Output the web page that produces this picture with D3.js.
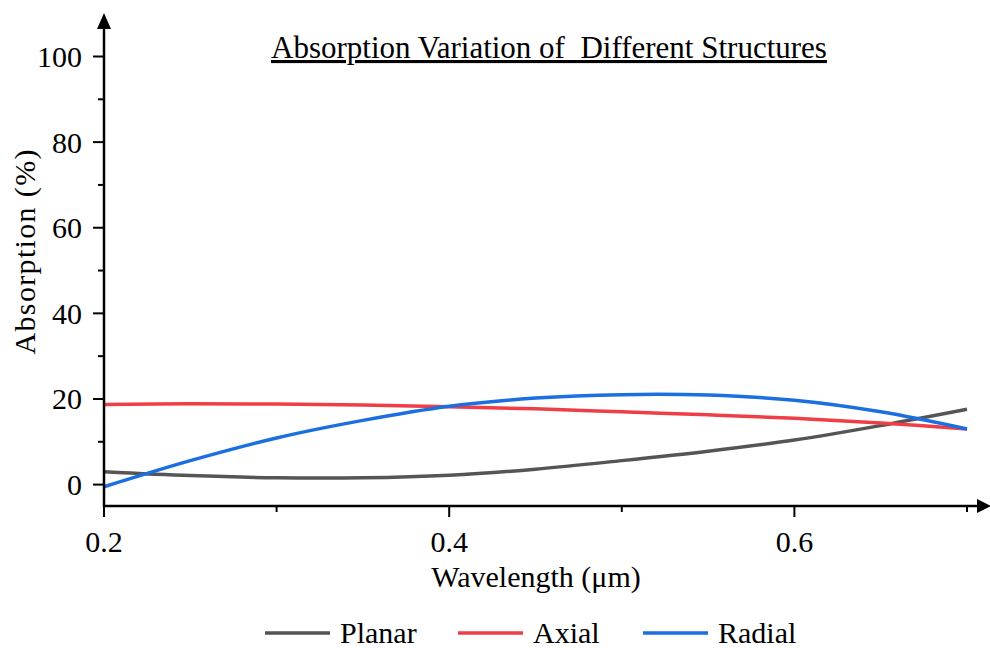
<!DOCTYPE html>
<html><head><meta charset="utf-8">
<script src="https://cdn.jsdelivr.net/npm/d3@7"></script>
<style>body{margin:0;background:#fff}svg{display:block}</style>
</head><body><svg id="c" width="990" height="648"></svg>
<script>
const wavelength = [0.2,0.25,0.3,0.35,0.4,0.45,0.5,0.55,0.6,0.65,0.7];
const planar = [3.0,2.1,1.6,1.6,2.2,3.6,5.6,7.8,10.4,13.8,17.6];
const axial  = [18.7,18.9,18.8,18.6,18.2,17.7,17.0,16.3,15.5,14.4,13.0];
const radial = [-0.5,5.6,10.9,15.0,18.3,20.2,21.0,20.9,19.7,17.0,13.0];
const seriesNames = ["Planar","Axial","Radial"];
const seriesColors = ["#555555","#ef3e46","#1b6fe0"];
const xTicks = [0.2,0.4,0.6];
const xMinor = [0.3,0.5,0.7];
const yTicks = [0,20,40,60,80,100];
const yMinor = [10,30,50,70,90];
const titleText = "Absorption Variation of  Different Structures";
const xLabel = "Wavelength (\u03bcm)";
const yLabel = "Absorption (%)";

const FONT = "'Liberation Serif', 'Times New Roman', Times, serif";
const svg = d3.select("#c").attr("font-family", FONT);
const x = d3.scaleLinear().domain([0.2,0.7]).range([104,967]);
const y = d3.scaleLinear().domain([-5,100]).range([506,56.5]);
const x0 = 104, yb = 506;

const data = [planar, axial, radial];
const line = d3.line().x((d,i)=>x(wavelength[i])).y(d=>y(d)).curve(d3.curveCatmullRom.alpha(0.5));
data.forEach((s,k)=>{
  svg.append("path").attr("d", line(s)).attr("fill","none")
    .attr("stroke", seriesColors[k]).attr("stroke-width",3.5);
});

const ax = svg.append("g");
ax.append("line").attr("x1",x0).attr("x2",x0).attr("y1",yb+1).attr("y2",28).attr("stroke","#000").attr("stroke-width",2.5);
ax.append("path").attr("d",`M${x0-7},29 L${x0},13 L${x0+7},29 Z`).attr("fill","#000");
ax.append("line").attr("x1",x0-1).attr("x2",977).attr("y1",yb).attr("y2",yb).attr("stroke","#000").attr("stroke-width",2.5);
ax.append("path").attr("d",`M977,${yb-7} L991,${yb} L977,${yb+7} Z`).attr("fill","#000");

yTicks.forEach(v=>{
  ax.append("line").attr("x1",x0-11).attr("x2",x0).attr("y1",y(v)).attr("y2",y(v)).attr("stroke","#000").attr("stroke-width",2);
  ax.append("text").attr("x",82).attr("y",y(v)).attr("dy","0.35em").attr("text-anchor","end").attr("font-size",30).text(v);
});
yMinor.forEach(v=>{
  ax.append("line").attr("x1",x0-6).attr("x2",x0).attr("y1",y(v)).attr("y2",y(v)).attr("stroke","#000").attr("stroke-width",2);
});
xTicks.forEach(v=>{
  ax.append("line").attr("x1",x(v)).attr("x2",x(v)).attr("y1",yb).attr("y2",yb+11).attr("stroke","#000").attr("stroke-width",2);
  ax.append("text").attr("x",x(v)).attr("y",552).attr("text-anchor","middle").attr("font-size",30).text(d3.format(".1f")(v));
});
xMinor.forEach(v=>{
  ax.append("line").attr("x1",x(v)).attr("x2",x(v)).attr("y1",yb).attr("y2",yb+6).attr("stroke","#000").attr("stroke-width",2);
});

svg.append("text").attr("x",536).attr("y",587).attr("text-anchor","middle").attr("font-size",30).text(xLabel);
svg.append("text").attr("transform","translate(35,252) rotate(-90)").attr("text-anchor","middle").attr("font-size",30)
  .attr("textLength",205).attr("lengthAdjust","spacing").text(yLabel);
svg.append("text").attr("x",549).attr("y",58).attr("text-anchor","middle").attr("font-size",31)
  .attr("text-decoration","underline").attr("xml:space","preserve").style("white-space","pre").text(titleText);

const legX = [265,458,643];
seriesNames.forEach((n,k)=>{
  svg.append("line").attr("x1",legX[k]).attr("x2",legX[k]+65).attr("y1",633).attr("y2",633)
    .attr("stroke",seriesColors[k]).attr("stroke-width",3.5);
  svg.append("text").attr("x",legX[k]+75).attr("y",643).attr("font-size",30).text(n);
});
</script></body></html>
